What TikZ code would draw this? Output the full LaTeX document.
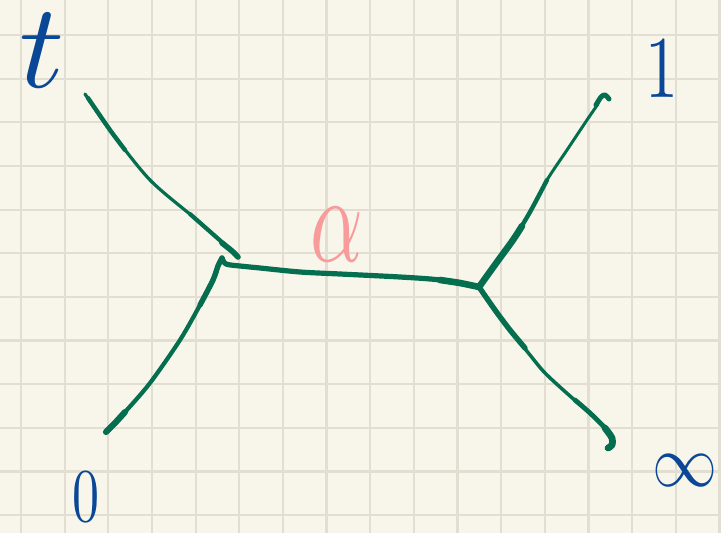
\documentclass[tikz,border=0pt]{standalone}
\definecolor{paper}{HTML}{F8F6EA}
\definecolor{gridc}{HTML}{E2DFD2}
\definecolor{ink}{HTML}{046E4F}
\definecolor{blueink}{HTML}{0A4796}
\definecolor{pinkink}{HTML}{F79B9B}
\tikzset{
  penstroke/.style={draw=ink, line cap=round, line join=round},
  gridline/.style={draw=gridc, line width=2.2pt},
  lab/.style={inner sep=0pt, text=blueink},
}
\begin{document}
\begin{tikzpicture}[x=1pt,y=-1pt]
\fill[paper] (0,0) rectangle (721,533);
\useasboundingbox (0,0) rectangle (721,533);
\foreach \k in {0,...,16} \draw[gridline] ({21+43.65*\k},0) -- ({21+43.65*\k},533);
\foreach \k in {0,...,11} \draw[gridline] (0,{35+43.65*\k}) -- (721,{35+43.65*\k});

% vertices and free ends
\coordinate (tl) at (85,94);
\coordinate (jl) at (222,258);
\coordinate (bl) at (106,432);
\coordinate (jr) at (479,287);
\coordinate (tr) at (605,95);
\coordinate (br) at (608,448);

% upper-left stroke
\draw[penstroke, line width=3.2] plot[smooth] coordinates {(tl) (110,130) (150,180) (197,220) (225,245) (238,257)};
\draw[penstroke, line width=4.4] plot[smooth] coordinates {(88,98) (110,130) (125,150)};
\draw[penstroke, line width=4.2] plot[smooth] coordinates {(190,214) (215,236) (232,251)};
\draw[penstroke, line width=5.6] plot[smooth] coordinates {(222,243) (232,251) (238,257)};

% lower-left stroke
\draw[penstroke, line width=4.2] plot[smooth] coordinates {(bl) (125,412) (150,383) (180,340) (200,305) (213,280) (218,266) (jl)};
\draw[penstroke, line width=6.2] plot[smooth] coordinates {(bl) (115,423) (125,412)};
\draw[penstroke, line width=5.4] plot[smooth] coordinates {(200,305) (213,280) (218,266) (jl)};

% middle stroke
\draw[penstroke, line width=5.2] plot[smooth] coordinates {(jl) (226,264) (240,266) (260,268) (300,272) (340,274) (400,277) (440,280) (jr)};
\draw[penstroke, line width=6.6] plot[smooth] coordinates {(440,280) (460,283) (jr)};

% upper-right stroke
\draw[penstroke, line width=3] plot[smooth] coordinates {(jr) (497,262) (513,240) (530,212) (547,180) (567,150) (587,120) (598,104)};
\draw[penstroke, line width=4.4] plot[smooth] coordinates {(jr) (497,262) (513,240) (530,212) (547,180)};
\draw[penstroke, line width=6.6] plot[smooth] coordinates {(jr) (497,262) (513,240) (522,226)};
\draw[penstroke, line width=5] plot[smooth] coordinates {(596,105) (601,97) (tr) (609,99)};

% lower-right stroke
\draw[penstroke, line width=3.5] plot[smooth] coordinates {(jr) (495,310) (510,330) (530,355) (545,373) (570,396) (590,413) (605,428) (612,438) (612,445) (br)};
\draw[penstroke, line width=5.4] plot[smooth] coordinates {(jr) (495,310) (510,330) (525,348)};
\draw[penstroke, line width=4.8] plot[smooth] coordinates {(575,400) (590,413) (605,428) (612,438) (612,445)};
\draw[penstroke, line width=6.8] plot[smooth] coordinates {(605,428) (612,438) (612,445) (br)};

% labels
\node[lab, xscale=12.5, yscale=12] (lt) at (42,51) {$t$};
\node[lab, xscale=6.6, yscale=8.8] (l1) at (662,68) {1};
\node[lab, xscale=5.4, yscale=7.6] (l0) at (86,497) {0};
\node[lab, xscale=6.5, yscale=7.4] (linf) at (685,471) {$\infty$};
\node[lab, text=pinkink, xscale=8.2, yscale=12.5] (la) at (337,235) {$\alpha$};
\end{tikzpicture}
\end{document}
